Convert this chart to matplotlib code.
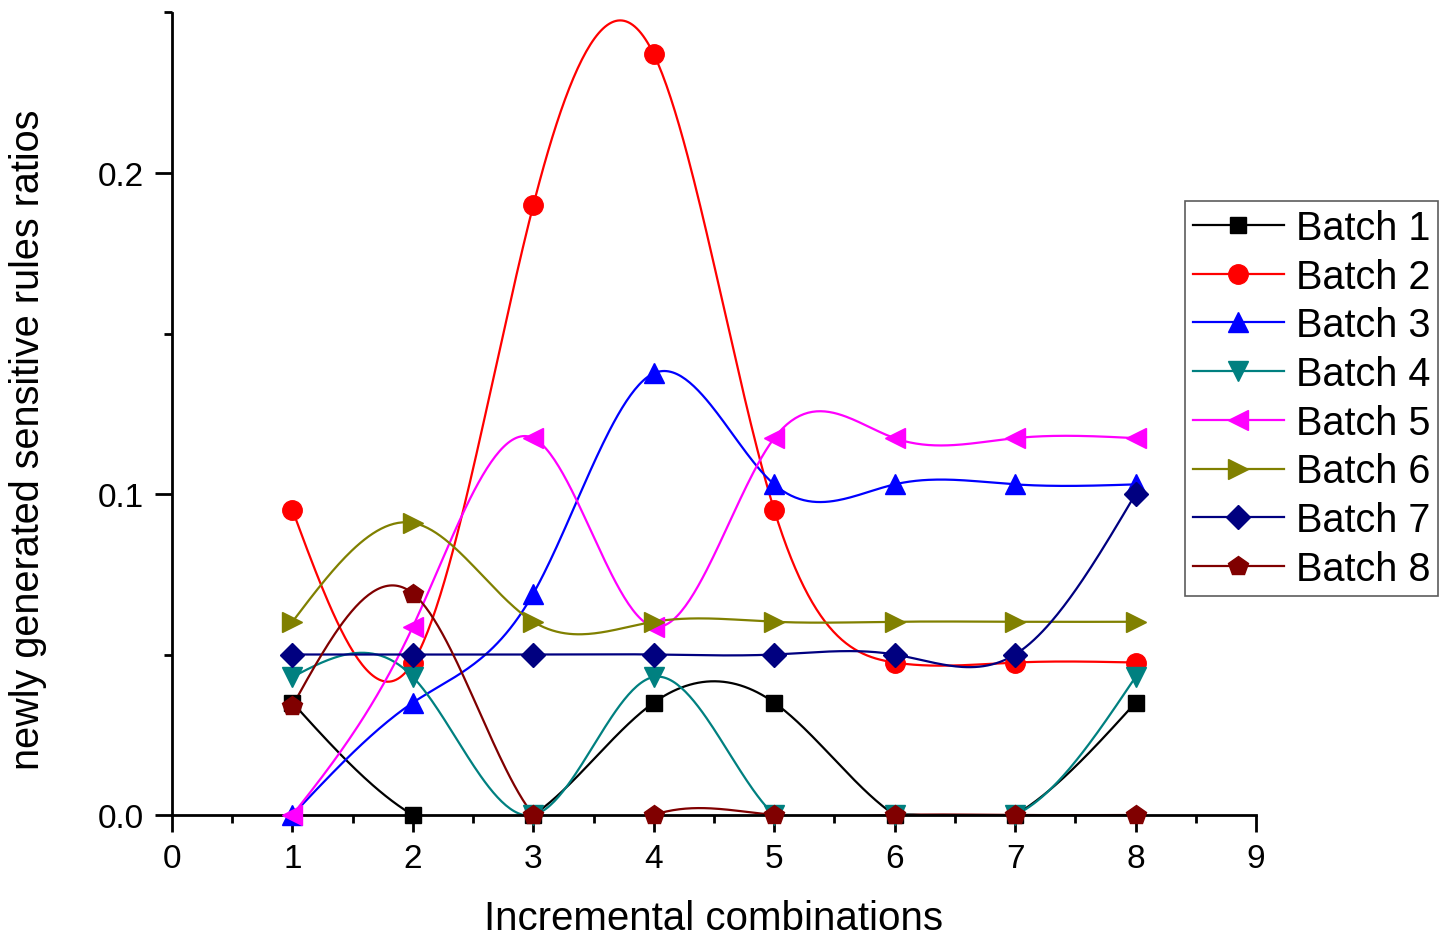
import numpy as np
import matplotlib
matplotlib.use("Agg")
import matplotlib.pyplot as plt
from matplotlib.ticker import MultipleLocator

plt.rcParams['font.family'] = ['Liberation Sans', 'DejaVu Sans']

x = [1, 2, 3, 4, 5, 6, 7, 8]
batch1 = [0.035, 0.0, 0.0, 0.035, 0.035, 0.0, 0.0, 0.035]
batch2 = [0.095, 0.0475, 0.190, 0.237, 0.095, 0.0475, 0.0475, 0.0475]
batch3 = [0.0, 0.035, 0.069, 0.1376, 0.103, 0.103, 0.103, 0.103]
batch4 = [0.043, 0.043, 0.0, 0.043, 0.0, 0.0, 0.0, 0.043]
batch5 = [0.0, 0.0587, 0.1174, 0.0587, 0.1174, 0.1174, 0.1174, 0.1174]
batch6 = [0.0602, 0.091, 0.0602, 0.0602, 0.0602, 0.0602, 0.0602, 0.0602]
batch7 = [0.05, 0.05, 0.05, 0.05, 0.05, 0.05, 0.05, 0.1]
batch8 = [0.034, 0.069, 0.0, 0.0, 0.0, 0.0, 0.0, 0.0]
labels = ["Batch 1", "Batch 2", "Batch 3", "Batch 4",
          "Batch 5", "Batch 6", "Batch 7", "Batch 8"]
series = [batch1, batch2, batch3, batch4, batch5, batch6, batch7, batch8]
colors = ["#000000", "#FF0000", "#0000FF", "#008080",
          "#FF00FF", "#808000", "#000080", "#800000"]
markers = ["s", "o", "^", "v", "<", ">", "D", "p"]
msizes = [12, 14, 15, 15, 15, 15, 12, 15]


def natural_spline(xs, ys, n=400):
    xs = np.asarray(xs, float)
    ys = np.asarray(ys, float)
    k = len(xs)
    h = np.diff(xs)
    A = np.zeros((k, k))
    b = np.zeros(k)
    A[0, 0] = 1
    A[-1, -1] = 1
    for i in range(1, k - 1):
        A[i, i - 1] = h[i - 1]
        A[i, i] = 2 * (h[i - 1] + h[i])
        A[i, i + 1] = h[i]
        b[i] = 6 * ((ys[i + 1] - ys[i]) / h[i] - (ys[i] - ys[i - 1]) / h[i - 1])
    M = np.linalg.solve(A, b)
    xx = np.linspace(xs[0], xs[-1], n)
    idx = np.clip(np.searchsorted(xs, xx) - 1, 0, k - 2)
    x0, x1 = xs[idx], xs[idx + 1]
    hh = x1 - x0
    t0 = x1 - xx
    t1 = xx - x0
    yy = (M[idx] * t0**3 / (6 * hh) + M[idx + 1] * t1**3 / (6 * hh)
          + (ys[idx] / hh - M[idx] * hh / 6) * t0
          + (ys[idx + 1] / hh - M[idx + 1] * hh / 6) * t1)
    return xx, yy


fig = plt.figure(figsize=(14.45, 9.37), dpi=100)
ax = fig.add_axes([172 / 1445, 1 - 816 / 937, (1256 - 172) / 1445, (816 - 13.5) / 937])

handles = []
for ys, lab, c, m, ms in zip(series, labels, colors, markers, msizes):
    xx, yy = natural_spline(x, ys)
    ax.plot(xx, yy, color=c, lw=1.6, zorder=2, clip_on=True)
    ax.plot(x, ys, linestyle='none', marker=m, markersize=ms, color=c,
            markeredgecolor=c, zorder=3, clip_on=False)
    h, = ax.plot([], [], color=c, lw=1.6, marker=m, markersize=ms,
                 markeredgecolor=c, label=lab)
    handles.append(h)

ax.set_xlim(0, 9)
ax.set_ylim(0, 0.25)
ax.xaxis.set_major_locator(MultipleLocator(1))
ax.xaxis.set_minor_locator(MultipleLocator(0.5))
ax.yaxis.set_major_locator(MultipleLocator(0.1))
ax.yaxis.set_minor_locator(MultipleLocator(0.05))
ax.yaxis.set_major_formatter(matplotlib.ticker.FormatStrFormatter('%.1f'))
for s in ['top', 'right']:
    ax.spines[s].set_visible(False)
for s in ['left', 'bottom']:
    ax.spines[s].set_linewidth(2)
ax.tick_params(which='major', direction='out', length=12, width=2,
               labelsize=24, pad=8)
ax.tick_params(which='minor', direction='out', length=6, width=2)

ax.set_xlabel("Incremental combinations", fontsize=29, labelpad=18)
ax.set_ylabel("newly generated sensitive rules ratios", fontsize=28.5,
              va='center', ha='center')
ax.yaxis.set_label_coords(-0.133, 0.4685)

leg = fig.legend(handles=handles, loc='upper right',
                 bbox_to_anchor=(1438 / 1445, 1 - 202 / 937),
                 fontsize=28.5, frameon=True, fancybox=False,
                 handlelength=2.3, labelspacing=0.27, borderpad=0.2,
                 handletextpad=0.3, borderaxespad=0)
leg.get_frame().set_edgecolor('#333333')
leg.get_frame().set_linewidth(1.2)

fig.savefig("out.png", dpi=100)
